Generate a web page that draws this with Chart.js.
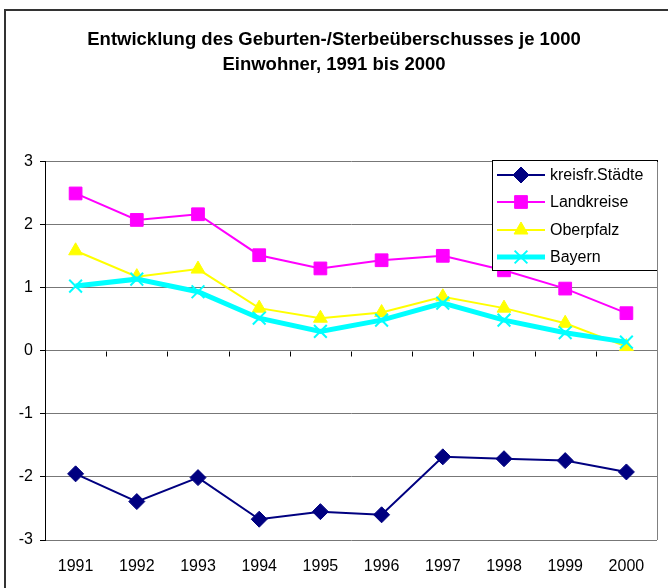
<!DOCTYPE html>
<html>
<head>
<meta charset="utf-8">
<script src="https://cdn.jsdelivr.net/npm/chart.js@4.4.1/dist/chart.umd.min.js"></script>
<style>
  html, body { margin: 0; padding: 0; background: #fff; }
  #wrap { width: 668px; height: 588px; position: relative; }
</style>
</head>
<body>
<div id="wrap"><canvas id="chart" width="668" height="588"></canvas></div>
<script>
// --- data ---
var years = ['1991', '1992', '1993', '1994', '1995', '1996', '1997', '1998', '1999', '2000'];
var kreisfrStaedte = [-1.95, -2.39, -2.01, -2.67, -2.55, -2.60, -1.68, -1.71, -1.74, -1.92];
var landkreise = [2.50, 2.08, 2.17, 1.52, 1.31, 1.44, 1.51, 1.28, 0.99, 0.60];
var oberpfalz = [1.59, 1.18, 1.30, 0.68, 0.52, 0.61, 0.86, 0.68, 0.44, 0.07];
var bayern = [1.03, 1.14, 0.94, 0.52, 0.31, 0.49, 0.76, 0.49, 0.29, 0.14];
var yTicks = [3, 2, 1, 0, -1, -2, -3];

var titleLines = ['Entwicklung des Geburten-/Sterbeüberschusses je 1000', 'Einwohner, 1991 bis 2000'];
var font = '"Liberation Sans", Arial, sans-serif';

// frame, plot border, zero axis ticks
var framePlugin = {
    id: 'frame',
    beforeDraw: function (chart) {
        var ctx = chart.ctx;
        ctx.save();
        ctx.strokeStyle = '#333';
        ctx.lineWidth = 2;
        ctx.beginPath();
        ctx.moveTo(5, 588);
        ctx.lineTo(5, 10);
        ctx.lineTo(668, 10);
        ctx.stroke();
        ctx.restore();
    },
    afterDraw: function (chart) {
        var ctx = chart.ctx, a = chart.chartArea;
        var x = chart.scales.x, y = chart.scales.y;
        ctx.save();
        ctx.strokeStyle = '#808080';
        ctx.lineWidth = 1;
        ctx.beginPath();
        ctx.moveTo(a.right + 0.5, a.top);
        ctx.lineTo(a.right + 0.5, a.bottom);
        ctx.stroke();
        // ticks along the zero line, between categories
        var y0 = Math.round(y.getPixelForValue(0)) + 0.5;
        ctx.strokeStyle = '#000';
        ctx.beginPath();
        for (var i = 1; i < years.length; i++) {
            var px = Math.round((x.getPixelForValue(i - 1) + x.getPixelForValue(i)) / 2) + 0.5;
            ctx.moveTo(px, y0);
            ctx.lineTo(px, y0 + 5);
        }
        ctx.stroke();
        ctx.restore();
    }
};

// legend box inside the plot area
var legendPlugin = {
    id: 'boxLegend',
    afterDatasetsDraw: function (chart) {
        var ctx = chart.ctx;
        var bx = 492, by = 160, bw = 165, bh = 110;
        ctx.save();
        ctx.fillStyle = '#fff';
        ctx.fillRect(bx, by, bw, bh);
        ctx.strokeStyle = '#000';
        ctx.lineWidth = 1;
        ctx.strokeRect(bx + 0.5, by + 0.5, bw, bh);
        var rows = [175, 202, 230, 257];
        chart.data.datasets.forEach(function (ds, i) {
            var ry = rows[i];
            ctx.strokeStyle = ds.borderColor;
            ctx.lineWidth = ds.borderWidth;
            ctx.beginPath();
            ctx.moveTo(497, ry);
            ctx.lineTo(545, ry);
            ctx.stroke();
            ctx.fillStyle = ds.pointBackgroundColor;
            ctx.strokeStyle = ds.pointBorderColor;
            ctx.lineWidth = ds.pointBorderWidth;
            Chart.helpers.drawPoint(ctx, {
                pointStyle: ds.pointStyle,
                radius: ds.pointRadius,
                borderWidth: ds.pointBorderWidth
            }, 521, ry);
            ctx.fillStyle = '#000';
            ctx.font = '16px ' + font;
            ctx.textBaseline = 'middle';
            ctx.fillText(ds.label, 550, ry + 1);
        });
        ctx.restore();
    }
};

function series(label, data, color, width, style, radius, order, pbw) {
    return {
        label: label,
        data: data,
        borderColor: color,
        backgroundColor: color,
        borderWidth: width,
        pointStyle: style,
        pointRadius: radius,
        pointHoverRadius: radius,
        pointBackgroundColor: color,
        pointBorderColor: color,
        pointBorderWidth: pbw,
        tension: 0,
        order: order
    };
}

new Chart(document.getElementById('chart').getContext('2d'), {
    type: 'line',
    data: {
        labels: years,
        datasets: [
            series('kreisfr.Städte', kreisfrStaedte, '#000080', 2, 'rectRot', 8, 4, 1),
            series('Landkreise', landkreise, '#FF00FF', 2, 'rect', 9, 3, 1),
            series('Oberpfalz', oberpfalz, '#FFFF00', 2, 'triangle', 8, 2, 1),
            series('Bayern', bayern, '#00FFFF', 5, 'crossRot', 9, 1, 2)
        ]
    },
    options: {
        responsive: false,
        animation: false,
        events: [],
        layout: { padding: { left: 5, right: 5, top: 0, bottom: 0 } },
        plugins: {
            legend: { display: false },
            tooltip: { enabled: false },
            title: {
                display: true,
                text: titleLines,
                color: '#000',
                font: { family: font, size: 18.5, weight: 'bold', lineHeight: 1.35 },
                padding: { top: 27, bottom: 85 }
            }
        },
        scales: {
            x: {
                offset: true,
                grid: { display: false, drawTicks: false },
                border: { display: false },
                ticks: { color: '#000', font: { family: font, size: 16 }, padding: 17, maxRotation: 0 },
                afterFit: function (s) { s.height = 48; }
            },
            y: {
                min: -3,
                max: 3,
                afterBuildTicks: function (s) { s.ticks = yTicks.map(function (v) { return { value: v }; }); },
                grid: { color: '#777', tickColor: '#000', tickLength: 5 },
                border: { color: '#000', width: 1 },
                ticks: { color: '#000', font: { family: font, size: 16 }, padding: 7 },
                afterFit: function (s) { s.width = 40; }
            }
        }
    },
    plugins: [framePlugin, legendPlugin]
});
</script>
</body>
</html>
